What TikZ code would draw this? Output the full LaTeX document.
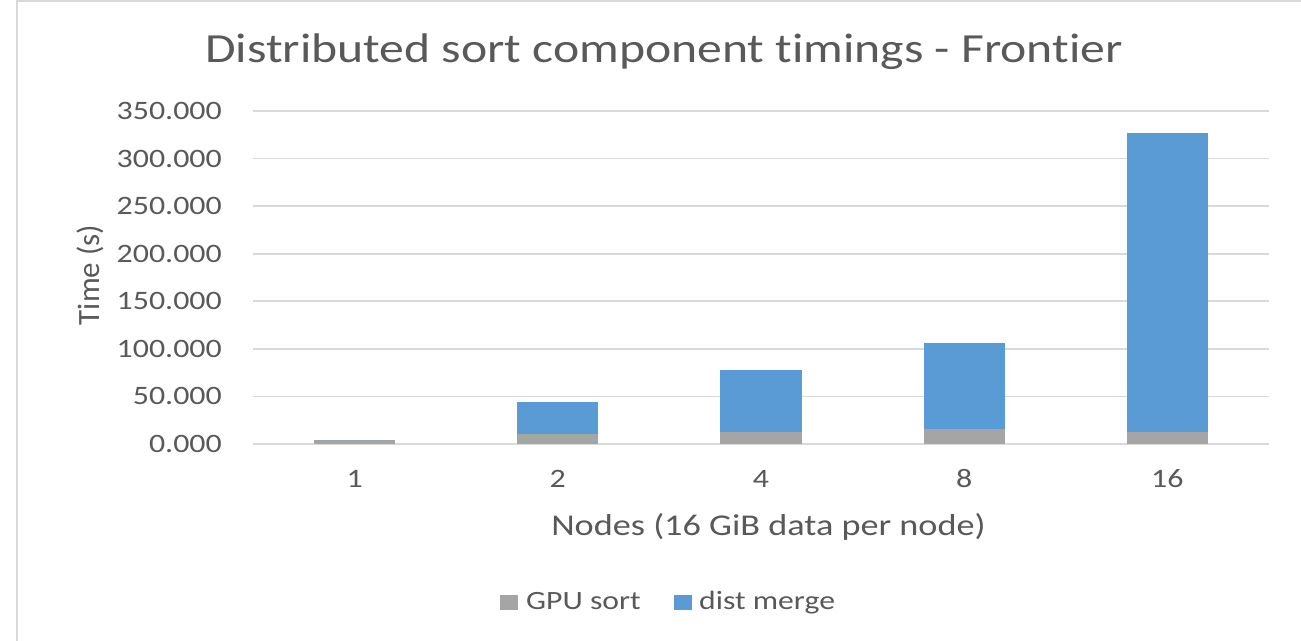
\documentclass[tikz,border=0pt]{standalone}
\usepackage{fontspec}
\newfontfamily\chartfont[FakeStretch=1.2, Ligatures=NoCommon]{Carlito}
\newfontfamily\chartplain[Ligatures=NoCommon]{Carlito}
\definecolor{txt}{HTML}{595959}
\definecolor{grid}{HTML}{D9D9D9}
\definecolor{gpusort}{HTML}{A5A5A5}
\definecolor{distmerge}{HTML}{5B9BD5}
% value (s) -> vertical position in the plot
\newcommand{\vy}[1]{444-0.95143*#1}
\tikzset{
  lbl/.style={inner sep=0pt, text=txt, font=\chartfont},
  titlefont/.style={lbl, font=\chartfont\fontsize{41.4bp}{48bp}\selectfont},
  tickfont/.style={lbl, font=\chartfont\fontsize{26.6bp}{32bp}\selectfont},
  axisfont/.style={lbl, font=\chartfont\fontsize{30.2bp}{36bp}\selectfont},
  legfont/.style={lbl, font=\chartfont\fontsize{26.4bp}{32bp}\selectfont},
  gridline/.style={draw=grid, line width=1.6bp},
  frameline/.style={draw=grid, line width=2.2bp},
  gpubar/.style={fill=gpusort},
  distbar/.style={fill=distmerge},
}
\begin{document}
\begin{tikzpicture}[x=1bp, y=-1bp]
\useasboundingbox (0,0) rectangle (1301,641);
\fill[white] (0,0) rectangle (1301,641);
% chart frame
\draw[frameline] (17,641) -- (17,1.2) -- (1301,1.2);

% title
\node[titlefont, anchor=base] (title) at (664,63) {Distributed sort component timings - Frontier};

% horizontal grid and value labels
\foreach \v/\t in {0/0.000,50/50.000,100/100.000,150/150.000,200/200.000,250/250.000,300/300.000,350/350.000}{
  \draw[gridline] (253,{\vy{\v}}) -- (1269,{\vy{\v}});
  \node[tickfont, anchor=east] (tick\v) at (222,{\vy{\v}}) {\t};
}

% stacked bars: centre / GPU sort / total
\foreach \c/\g/\tot [count=\i] in {354.6/4.0/4.0, 557.8/10.8/44.1, 761.0/12.3/77.4, 964.2/15.8/105.8, 1167.4/12.6/327.2}{
  \fill[gpubar] ({\c-40.6},444) rectangle ({\c+40.6},{\vy{\g}});
  \fill[distbar] ({\c-40.6},{\vy{\g}}) rectangle ({\c+40.6},{\vy{\tot}});
}

% category labels
\foreach \c/\t in {354.6/1, 557.8/2, 761.0/4, 964.2/8, 1167.4/16}{
  \node[tickfont] (cat\t) at (\c,478.5) {\t};
}

% axis titles
\node[axisfont, anchor=base] (xtitle) at (768.5,535) {Nodes (16 GiB data per node)};
\node[lbl, font=\chartplain\fontsize{31bp}{36bp}\selectfont, rotate=90, anchor=base] (ytitle) at (99,275) {Time (s)};

% legend
\fill[gpusort] (500,595) rectangle (518,610);
\node[legfont, anchor=base west] (leggpu) at (526,609) {GPU sort};
\fill[distmerge] (674,595) rectangle (692,610);
\node[legfont, anchor=base west] (legdist) at (699,609) {dist merge};
\end{tikzpicture}
\end{document}
